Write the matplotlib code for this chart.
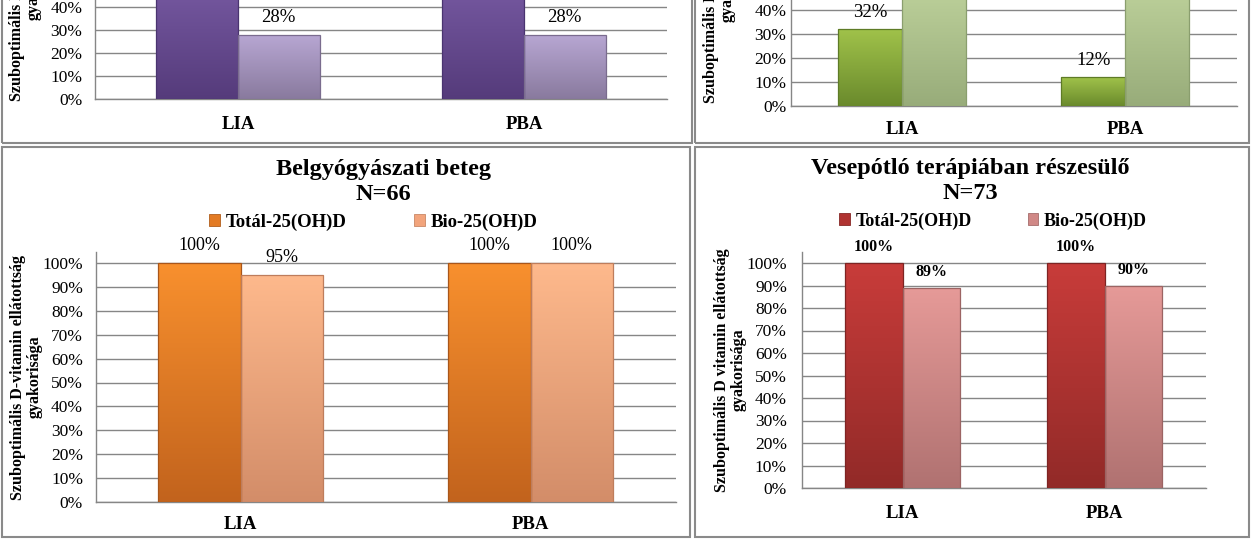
import matplotlib
matplotlib.use('Agg')
import matplotlib.pyplot as plt
import matplotlib.transforms as mtransforms
import numpy as np
from matplotlib.patches import Rectangle, Patch
from matplotlib.colors import to_rgb

plt.rcParams['font.family'] = ['Liberation Serif', 'DejaVu Serif']

# ---------------- data ----------------
categories = ['LIA', 'PBA']
series_names = ['Totál-25(OH)D', 'Bio-25(OH)D']

# top-left panel (cropped at the top of the picture)
tl_total = [0.62, 0.62]      # bars run out of the visible area (estimated)
tl_bio = [0.28, 0.28]
# top-right panel (cropped)
tr_total = [0.32, 0.12]
tr_bio = [0.70, 0.70]        # bars run out of the visible area (estimated)
# bottom-left panel
bl_title = 'Belgyógyászati beteg\nN=66'
bl_total = [1.00, 1.00]
bl_bio = [0.95, 1.00]
# bottom-right panel
br_title = 'Vesepótló terápiában részesülő\nN=73'
br_total = [1.00, 1.00]
br_bio = [0.89, 0.90]

yticks = [0.0, 0.1, 0.2, 0.3, 0.4, 0.5, 0.6, 0.7, 0.8, 0.9, 1.0]
ytick_labels = ['0%', '10%', '20%', '30%', '40%', '50%', '60%', '70%', '80%', '90%', '100%']

ylabel_dash = 'Szuboptimális D-vitamin ellátottság\ngyakorisága'
ylabel_space = 'Szuboptimális D vitamin ellátottság\ngyakorisága'

# ---------------- figure ----------------
W, H = 1251, 539
fig = plt.figure(figsize=(W / 100, H / 100), dpi=100)
fig.patch.set_facecolor('white')

GRID = '#868686'


def add_ax(left, right, y0, px_unit, ytop):
    top_px = y0 - px_unit * ytop
    return fig.add_axes([left / W, 1 - y0 / H, (right - left) / W, (y0 - top_px) / H])


def grad_bars(ax, xs, vals, w, ctop, cbot, edge):
    bars = ax.bar(xs, vals, w, color=cbot, linewidth=0, zorder=3)
    ct, cb = np.array(to_rgb(ctop)), np.array(to_rgb(cbot))
    for p in bars:
        x0, bw, h = p.get_x(), p.get_width(), p.get_height()
        t = np.linspace(0, 1, 128)[:, None]
        cols = (1 - t) * cb + t * ct
        im = ax.imshow(cols.reshape(128, 1, 3), extent=[x0, x0 + bw, 0, h],
                       origin='lower', aspect='auto', zorder=3.1,
                       interpolation='bilinear')
        im.set_clip_path(p)
    ax.bar(xs, vals, w, fill=False, edgecolor=edge, linewidth=0.9, zorder=3.3)
    return bars


def panel(ax, total, bio, colors, ytop, tick_pad, xpad, lab_off, lab_kw, ylabel,
          ylabel_x_px, ylab_size=11.5):
    x = np.arange(len(categories))
    w = 0.285
    grad_bars(ax, x - w / 2, total, w, colors[0], colors[1], colors[2])
    grad_bars(ax, x + w / 2, bio, w, colors[3], colors[4], colors[5])
    for xs, vals in ((x - w / 2, total), (x + w / 2, bio)):
        for xi, v in zip(xs, vals):
            ax.annotate(f'{v * 100:.0f}%', (xi, v), xytext=(0, lab_off * 0.72),
                        textcoords='offset points', ha='center', va='center',
                        zorder=5, **lab_kw)
    ax.set_xlim(-0.5, 1.5)
    ax.set_ylim(0, ytop)
    ax.set_yticks(yticks)
    ax.set_yticklabels(ytick_labels, fontsize=12.5)
    ax.set_xticks(x)
    ax.set_xticklabels(categories, fontsize=13.5, fontweight='bold')
    ax.tick_params(axis='y', length=0, pad=tick_pad)
    ax.tick_params(axis='x', length=0, pad=xpad)
    ax.yaxis.grid(True, color=GRID, linewidth=1)
    ax.set_axisbelow(True)
    for s in ('top', 'right'):
        ax.spines[s].set_visible(False)
    for s in ('left', 'bottom'):
        ax.spines[s].set_color(GRID)
        ax.spines[s].set_linewidth(1)
    ax.set_facecolor('none')
    ax.set_ylabel(ylabel, fontsize=ylab_size, fontweight='bold', linespacing=1.05)
    ax.yaxis.label.set_va('center')
    ax.yaxis.set_label_coords(
        ylabel_x_px, 0.5,
        transform=mtransforms.blended_transform_factory(fig.transFigure, ax.transAxes))


purple = ['#7E60AA', '#553B7B', '#4A3470', '#B8A7D3', '#897A9E', '#7A6C8E']
green = ['#A0C24A', '#6A8A2C', '#5E7B26', '#CCE0A8', '#98AC7A', '#8A9E6E']
orange = ['#F8902E', '#C2631D', '#A9561A', '#FEB98C', '#D38D69', '#BE7D5C']
red = ['#C83C3A', '#922A28', '#7E2423', '#E69A98', '#B07271', '#9C6463']

# top-left
ax1 = add_ax(95, 667, 99, 230, 1.045)
panel(ax1, tl_total, tl_bio, purple, 1.045, 9, 12.5, 17, dict(fontsize=13.5),
      ylabel_dash, 25 / W)
# top-right
ax2 = add_ax(790.5, 1236.5, 106, 240, 1.045)
panel(ax2, tr_total, tr_bio, green, 1.045, 3, 10.5, 17, dict(fontsize=13.5),
      ylabel_dash, 719 / W)
# bottom-left
ax3 = add_ax(95.5, 675.5, 502, 239, 1.045)
panel(ax3, bl_total, bl_bio, orange, 1.045, 9, 10, 17, dict(fontsize=13),
      ylabel_dash, 26 / W)
# bottom-right
ax4 = add_ax(801.5, 1205.5, 488, 225, 1.05)
panel(ax4, br_total, br_bio, red, 1.05, 10.5, 12, 16,
      dict(fontsize=11.5, fontweight='bold'), ylabel_space, 730 / W)

# titles
fig.text(383 / W, 1 - 182 / H, bl_title, ha='center', va='center',
         fontsize=17.5, fontweight='bold', linespacing=1.2)
fig.text(970 / W, 1 - 181 / H, br_title, ha='center', va='center',
         fontsize=17.5, fontweight='bold', linespacing=1.2)

# legends
bl_handles = [Patch(facecolor='#E37B24', edgecolor='#B05E1C', lw=0.6),
              Patch(facecolor='#F2A47C', edgecolor='#C98766', lw=0.6)]
fig.legend(bl_handles, series_names, loc='center', ncol=2,
           bbox_to_anchor=(373 / W, 1 - 222 / H), frameon=False,
           prop=dict(size=13.5, weight='bold'), handlelength=0.6,
           handleheight=0.6, handletextpad=0.3, columnspacing=3.6,
           borderpad=0, borderaxespad=0)
br_handles = [Patch(facecolor='#B03331', edgecolor='#862826', lw=0.6),
              Patch(facecolor='#D08886', edgecolor='#A56C6B', lw=0.6)]
fig.legend(br_handles, series_names, loc='center', ncol=2,
           bbox_to_anchor=(993 / W, 1 - 221 / H), frameon=False,
           prop=dict(size=13, weight='bold'), handlelength=0.6,
           handleheight=0.6, handletextpad=0.3, columnspacing=3.1,
           borderpad=0, borderaxespad=0)


# panel frames (in figure pixels)
def frame(x0, y0, x1, y1):
    fig.add_artist(Rectangle((x0 / W, 1 - y1 / H), (x1 - x0) / W, (y1 - y0) / H,
                             transform=fig.transFigure, fill=False,
                             edgecolor='#8A8A8A', linewidth=1.5, zorder=10))


frame(2, -20, 692, 143)
frame(695, -20, 1249, 143)
frame(2, 147, 690, 537)
frame(695, 147, 1249, 537)

fig.savefig('out.png', dpi=100, facecolor='white')
